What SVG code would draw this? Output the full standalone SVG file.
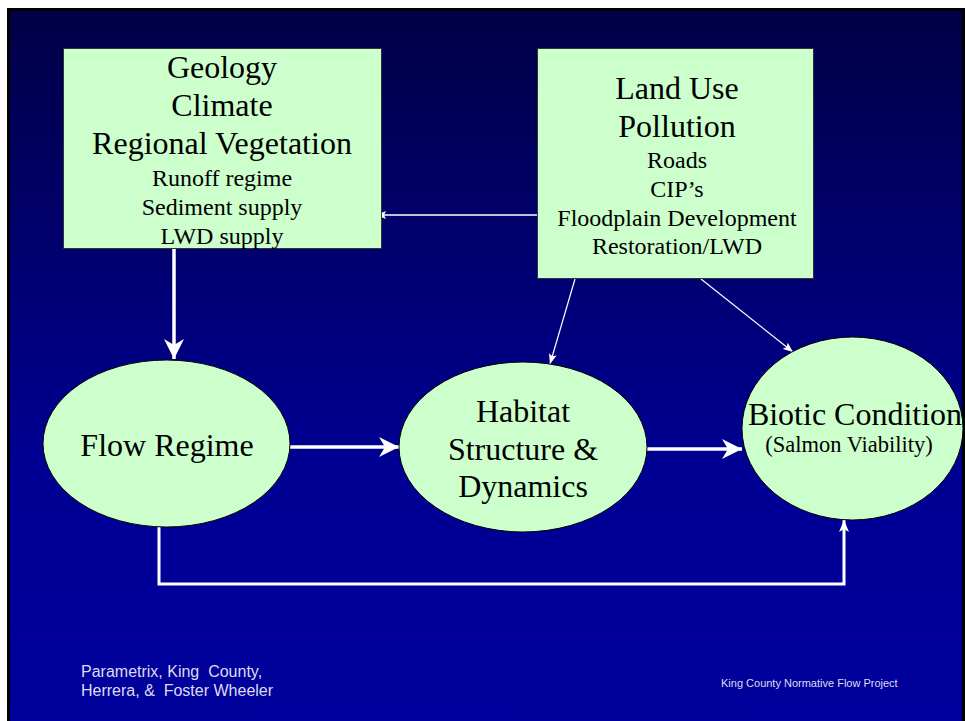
<svg xmlns="http://www.w3.org/2000/svg" width="965" height="721" viewBox="0 0 965 721">
<defs>
<linearGradient id="bg" x1="0" y1="10" x2="0" y2="721" gradientUnits="userSpaceOnUse">
<stop offset="0" stop-color="#000046"/>
<stop offset="0.65" stop-color="#000094"/>
<stop offset="1" stop-color="#00009c"/>
</linearGradient>
<marker id="big" markerUnits="userSpaceOnUse" markerWidth="20" markerHeight="20" refX="20" refY="10" orient="auto">
<path d="M0,0 L20,10 L0,20 L6,10 Z" fill="#fff"/>
</marker>
<marker id="mid" markerUnits="userSpaceOnUse" markerWidth="12" markerHeight="10" refX="12" refY="5" orient="auto">
<path d="M0,0 L12,5 L0,10 L3,5 Z" fill="#fff"/>
</marker>
<marker id="thin" markerUnits="userSpaceOnUse" markerWidth="10" markerHeight="8" refX="10" refY="4" orient="auto">
<path d="M0,0 L10,4 L0,8 L2,4 Z" fill="#fff"/>
</marker>
<style>
.box{fill:#ccffcc;stroke:#333;stroke-width:1}
.ell{fill:#ccffcc;stroke:#000;stroke-width:1}
.t{font-family:"Liberation Serif","Times New Roman",serif;fill:#000;text-anchor:middle}
.L{font-size:32px}
.S{font-size:24px}
.c{fill:none;stroke:#fff}
.foot{font-family:"Liberation Sans",Arial,sans-serif;fill:#dcdcf4;white-space:pre}
</style>
</defs>
<rect x="0" y="0" width="965" height="721" fill="#fff"/>
<rect x="8.5" y="9.5" width="955" height="715" fill="url(#bg)" stroke="#000" stroke-width="3"/>

<g id="connectors">
<path class="c" d="M537,215 L376,215" stroke-width="1.5" marker-end="url(#thin)"/>
<path class="c" d="M174,248 L174,359" stroke-width="3.5" marker-end="url(#big)"/>
<path class="c" d="M290,447 L399,447" stroke-width="3.5" marker-end="url(#big)"/>
<path class="c" d="M647,449 L742,449" stroke-width="3.5" marker-end="url(#big)"/>
<path class="c" d="M159,527 L159,584 L844,584 L844,520" stroke-width="3" marker-end="url(#mid)"/>
<path class="c" d="M575,279 L550,364" stroke-width="1.2" marker-end="url(#thin)"/>
<path class="c" d="M701,279 L793,352" stroke-width="1.2" marker-end="url(#thin)"/>
</g>

<g id="natural">
<rect class="box" x="63.5" y="48.5" width="318" height="200"/>
<text class="t L" x="222" y="78">Geology</text>
<text class="t L" x="222" y="116">Climate</text>
<text class="t L" x="222" y="154">Regional Vegetation</text>
<text class="t S" x="222" y="186">Runoff regime</text>
<text class="t S" x="222" y="215">Sediment supply</text>
<text class="t S" x="222" y="244">LWD supply</text>
</g>

<g id="landuse">
<rect class="box" x="537.5" y="48.5" width="276" height="230"/>
<text class="t L" x="677" y="99">Land Use</text>
<text class="t L" x="677" y="137">Pollution</text>
<text class="t S" x="677" y="168">Roads</text>
<text class="t S" x="677" y="197">CIP’s</text>
<text class="t S" x="677" y="226">Floodplain Development</text>
<text class="t S" x="677" y="254">Restoration/LWD</text>
</g>

<g id="flow">
<ellipse class="ell" cx="166.5" cy="443.5" rx="123.5" ry="83.5"/>
<text class="t L" x="167" y="456">Flow Regime</text>
</g>

<g id="habitat">
<ellipse class="ell" cx="523" cy="447" rx="124" ry="85"/>
<text class="t L" x="523" y="422">Habitat</text>
<text class="t L" x="523" y="460">Structure &amp;</text>
<text class="t L" x="523" y="497">Dynamics</text>
</g>

<g id="biotic">
<ellipse class="ell" cx="852.5" cy="428.5" rx="110.5" ry="91.5"/>
<text class="t L" x="855" y="425">Biotic Condition</text>
<text class="t" style="font-size:22.5px" x="849" y="452">(Salmon Viability)</text>
</g>

<g id="footer">
<text class="foot" x="81" y="677" font-size="16">Parametrix, King  County,</text>
<text class="foot" x="81" y="696" font-size="16">Herrera, &amp;  Foster Wheeler</text>
<text class="foot" x="721" y="687" font-size="11">King County Normative Flow Project</text>
</g>
</svg>
